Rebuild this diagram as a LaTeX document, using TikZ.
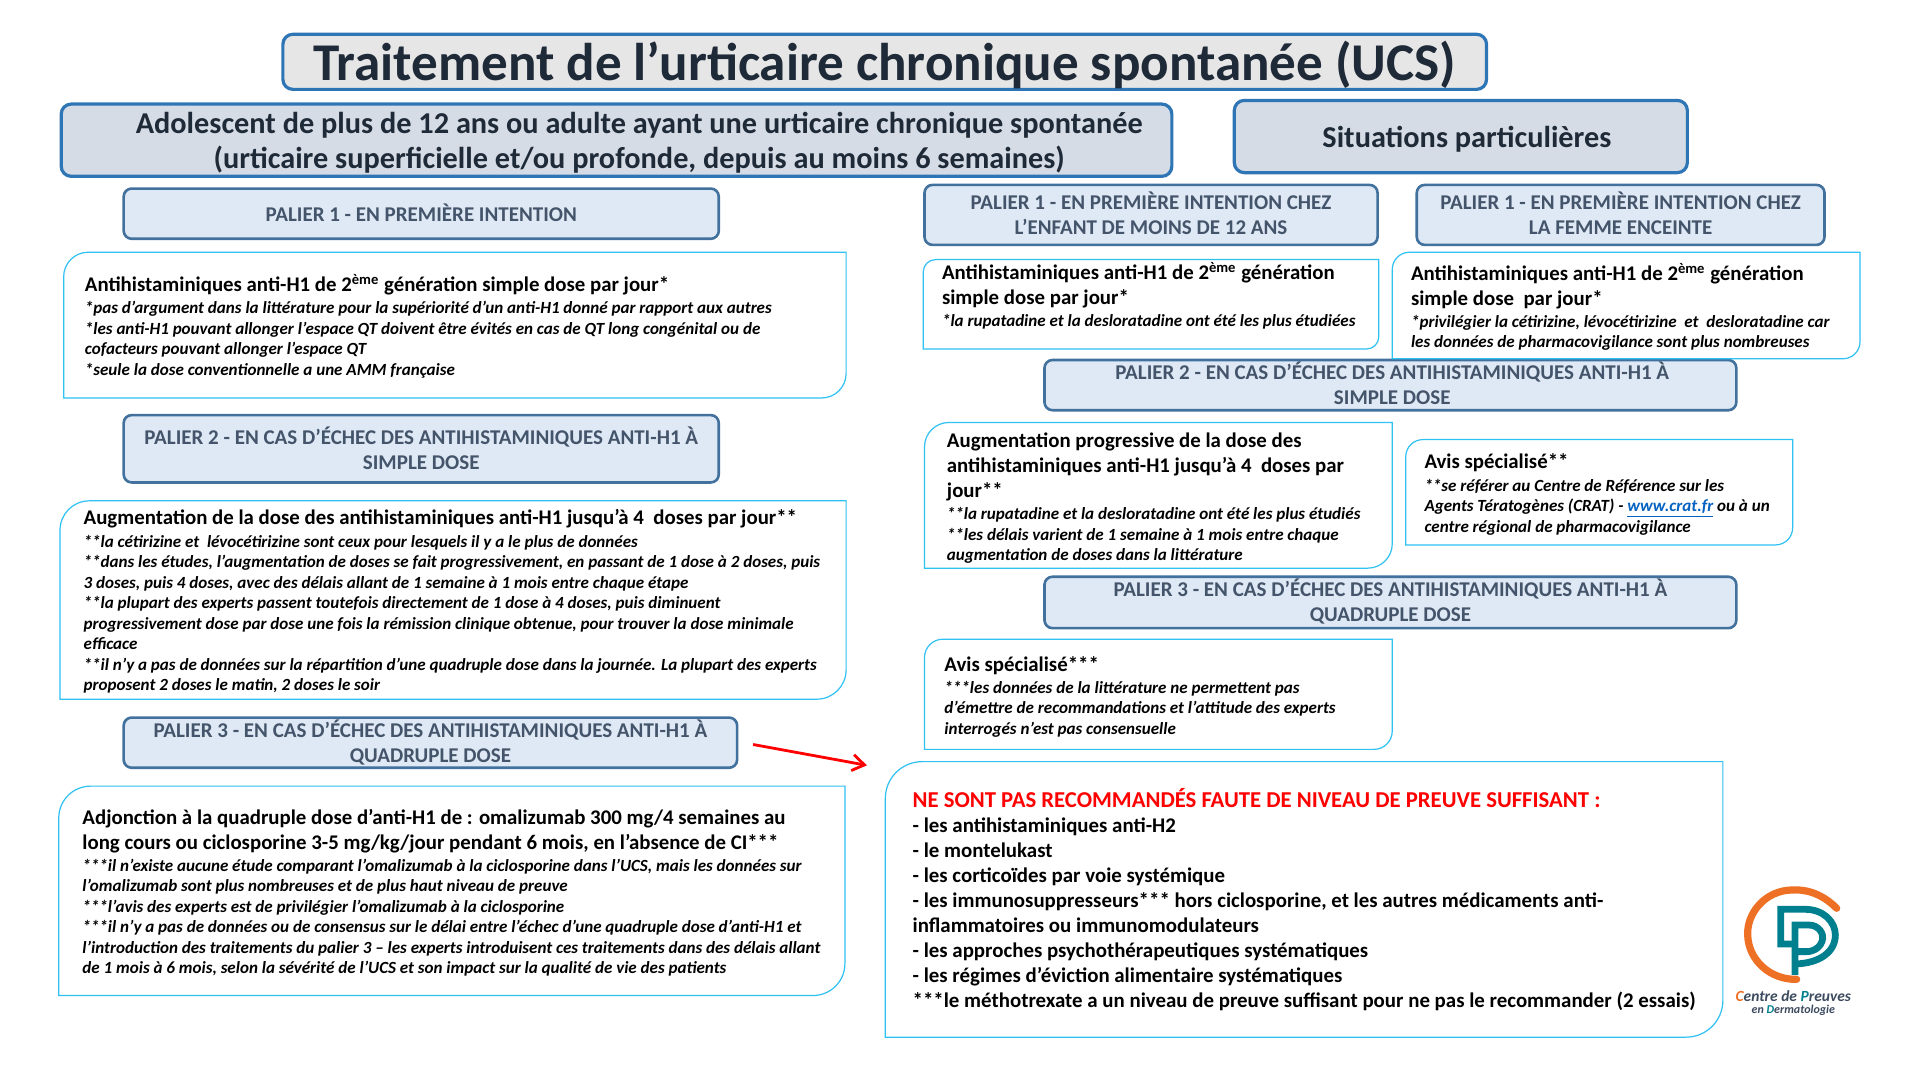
\documentclass[tikz,border=0pt]{standalone}
\usepackage{fontspec}
\setmainfont{Carlito}
\usetikzlibrary{arrows.meta,calc}
\definecolor{hstroke}{HTML}{2E75B6}
\definecolor{pstroke}{HTML}{41719C}
\definecolor{ptext}{HTML}{44546A}
\definecolor{cstroke}{HTML}{2FC1F3}
\definecolor{ttext}{HTML}{1F2A38}
\definecolor{lorange}{HTML}{EE7025}
\definecolor{lteal}{HTML}{00808F}
\definecolor{hfill}{HTML}{D6DCE5}
\definecolor{tfill}{HTML}{E7E6E6}
\definecolor{pfill}{HTML}{DEE9F5}
\newcommand\hdf{\fontsize{10.42}{12.5}\selectfont\bfseries}
\newcommand\ntf{\par\vspace{0.8pt}\fontsize{8.52}{10.25}\selectfont\bfseries\itshape}
\newcommand\lgf{\fontsize{10.44}{12.55}\selectfont\bfseries}
\tikzset{
  x=0.61224pt,y=-0.61224pt,
  headbox/.style={draw=hstroke,line width=1.6pt,rounded corners=5pt,fill=#1,inner sep=0pt},
  palbox/.style={draw=pstroke,line width=1.3pt,rounded corners=4pt,fill=pfill,inner sep=0pt},
  paltext/.style={inner sep=0pt,align=center,text=ptext,font=\fontsize{10.5}{12.3}\selectfont\bfseries},
  bigtext/.style={inner sep=0pt,align=center,text=ttext,font=\fontsize{26.55}{30}\selectfont\bfseries},
  headtext/.style={inner sep=0pt,align=center,text=ttext,font=\fontsize{15.15}{17.8}\selectfont\bfseries},
  cbox/.style={draw=cstroke,line width=0.6pt},
  txt/.style={anchor=north west,inner sep=0pt,text width=440pt,align=flush left},
  logotxt/.style={inner sep=0pt,text=ptext!90!black},
}
% box node from corners, then its label: name, x1,y1,x2,y2, box style, dx,dy, label style; the label text follows
\newcommand\bx[9]{%
  \pgfmathsetmacro\bw{(#4-#2)*0.61224}\pgfmathsetmacro\bh{(#5-#3)*0.61224}%
  \node[#6,minimum width=\bw pt,minimum height=\bh pt,name=#1] at ({(#2+#4)/2},{(#3+#5)/2}) {};
  \node[#9,name=#1-text] at ({(#2+#4)/2+#7},{(#3+#5)/2+#8})}
% content box: square TR and BL corners, rounded TL and BR
\newcommand\cb[5]{\draw[cbox] (#1+#5,#2) -- (#3,#2) -- (#3,#4-#5) arc[start angle=0,end angle=-90,radius=#5 *0.61224pt] -- (#1,#4) -- (#1,#2+#5) arc[start angle=180,end angle=90,radius=#5 *0.61224pt] -- cycle;}
\begin{document}
\begin{tikzpicture}
\useasboundingbox (0,0) rectangle (1568,882);
\fill[white] (0,0) rectangle (1568,882);

\bx{title}{231}{28}{1214}{73}{headbox=tfill}{0}{2.5}{bigtext}{Traitement de l’urticaire chronique spontanée (UCS)};
\bx{adol}{50}{85}{957}{144}{headbox=hfill}{18.5}{2}{headtext}{Adolescent de plus de 12 ans ou adulte ayant une urticaire chronique spontanée\\(urticaire superficielle et/ou profonde, depuis au moins 6 semaines)};
\bx{situ}{1008}{82}{1378}{141}{headbox=hfill}{5}{2}{headtext}{Situations particulières};

\bx{pa}{101}{154}{587}{195}{palbox}{0}{-1}{paltext}{PALIER 1 - EN PREMIÈRE INTENTION};
\bx{pb}{101}{339}{587}{394}{palbox}{0}{-0.5}{paltext}{PALIER 2 - EN CAS D’ÉCHEC DES ANTIHISTAMINIQUES ANTI-H1 À\\SIMPLE DOSE};
\bx{pc}{101}{586}{602}{627}{palbox}{0}{0}{paltext}{PALIER 3 - EN CAS D’ÉCHEC DES ANTIHISTAMINIQUES ANTI-H1 À\\QUADRUPLE DOSE};
\bx{pd}{755}{151}{1125}{200}{palbox}{0}{-1.5}{paltext}{PALIER 1 - EN PREMIÈRE INTENTION CHEZ\\L’ENFANT DE MOINS DE 12 ANS};
\bx{pe}{1157}{151}{1490}{200}{palbox}{0}{-1.5}{paltext}{PALIER 1 - EN PREMIÈRE INTENTION CHEZ\\LA FEMME ENCEINTE};
\bx{pf}{853}{294}{1418}{335}{palbox}{1.5}{-1.5}{paltext}{PALIER 2 - EN CAS D’ÉCHEC DES ANTIHISTAMINIQUES ANTI-H1 À\\SIMPLE DOSE};
\bx{pg}{853}{471}{1418}{513}{palbox}{0}{-1}{paltext}{PALIER 3 - EN CAS D’ÉCHEC DES ANTIHISTAMINIQUES ANTI-H1 À\\QUADRUPLE DOSE};

\cb{52}{206}{691}{325}{20}
\cb{49}{409}{691}{571}{24}
\cb{48}{642}{690}{813}{26}
\cb{754}{212}{1126}{285}{10}
\cb{1137}{206}{1519}{293}{14}
\cb{755}{345}{1137}{464}{20}
\cb{1148}{359}{1464}{445}{14}
\cb{755}{522}{1137}{612}{15}
\cb{723}{622}{1407}{847}{30}

\node[txt] (t1) at (69,223.5) {\hdf Antihistaminiques anti-H1 de 2\textsuperscript{ème} génération simple dose par jour*
\ntf *pas d’argument dans la littérature pour la supériorité d’un anti-H1 donné par rapport aux autres\\{}*les anti-H1 pouvant allonger l’espace QT doivent être évités en cas de QT long congénital ou de\\
cofacteurs pouvant allonger l’espace QT\\{}*seule la dose conventionnelle a une AMM française\par};

\node[txt] (t2) at (68,416) {\hdf Augmentation de la dose des antihistaminiques anti-H1 jusqu’à 4~ doses par jour**
\ntf **la cétirizine et~ lévocétirizine sont ceux pour lesquels il y a le plus de données\\{}**dans les études, l’augmentation de doses se fait progressivement, en passant de 1 dose à 2 doses, puis\\
3 doses, puis 4 doses, avec des délais allant de 1 semaine à 1 mois entre chaque étape\\{}**la plupart des experts passent toutefois directement de 1 dose à 4 doses, puis diminuent\\
progressivement dose par dose une fois la rémission clinique obtenue, pour trouver la dose minimale\\
efficace\\{}**il n’y a pas de données sur la répartition d’une quadruple dose dans la journée. La plupart des experts\\
proposent 2 doses le matin, 2 doses le soir\par};

\node[txt] (t3) at (67,660.5) {\hdf Adjonction à la quadruple dose d’anti-H1 de : omalizumab 300 mg/4 semaines au\\
long cours ou ciclosporine 3-5 mg/kg/jour pendant 6 mois, en l’absence de CI***
\ntf ***il n’existe aucune étude comparant l’omalizumab à la ciclosporine dans l’UCS, mais les données sur\\
l’omalizumab sont plus nombreuses et de plus haut niveau de preuve\\{}***l’avis des experts est de privilégier l’omalizumab à la ciclosporine\\{}***il n’y a pas de données ou de consensus sur le délai entre l’échec d’une quadruple dose d’anti-H1 et\\
l’introduction des traitements du palier 3 – les experts introduisent ces traitements dans des délais allant\\
de 1 mois à 6 mois, selon la sévérité de l’UCS et son impact sur la qualité de vie des patients\par};

\node[txt] (t4) at (769,213.7) {\hdf Antihistaminiques anti-H1 de 2\textsuperscript{ème} génération\\
simple dose par jour*
\ntf *la rupatadine et la desloratadine ont été les plus étudiées\par};

\node[txt] (t5) at (1152,214.5) {\hdf Antihistaminiques anti-H1 de 2\textsuperscript{ème} génération\\
simple dose~ par jour*
\ntf *privilégier la cétirizine, lévocétirizine~ et~ desloratadine car\\
les données de pharmacovigilance sont plus nombreuses\par};

\node[txt] (t6) at (773,353.3) {\hdf Augmentation progressive de la dose des\\
antihistaminiques anti-H1 jusqu’à 4~ doses par\\
jour**
\ntf **la rupatadine et la desloratadine ont été les plus étudiés\\{}**les délais varient de 1 semaine à 1 mois entre chaque\\
augmentation de doses dans la littérature\par};

\node[txt] (t7) at (1163,370.5) {\hdf Avis spécialisé**
\ntf **se référer au Centre de Référence sur les\\
Agents Tératogènes (CRAT) - {\color[HTML]{0563C1}\underline{www.crat.fr}} ou à un\\
centre régional de pharmacovigilance\par};

\node[txt] (t8) at (771,535.5) {\hdf Avis spécialisé***
\ntf ***les données de la littérature ne permettent pas\\
d’émettre de recommandations et l’attitude des experts\\
interrogés n’est pas consensuelle\par};

\node[txt] (t9) at (745,643.2) {\lgf{\color{red}\fontsize{11.35}{12.55}\selectfont NE SONT PAS RECOMMANDÉS FAUTE DE NIVEAU DE PREUVE SUFFISANT :}\\
- les antihistaminiques anti-H2\\
- le montelukast\\
- les corticoïdes par voie systémique\\
- les immunosuppresseurs*** hors ciclosporine, et les autres médicaments anti-\\
inflammatoires ou immunomodulateurs\\
- les approches psychothérapeutiques systématiques\\
- les régimes d’éviction alimentaire systématiques\\{}***le méthotrexate a un niveau de preuve suffisant pour ne pas le recommander (2 essais)\par};

\coordinate (arrowstart) at (615,608);
\coordinate (arrowend) at (708,625);
\draw[red,line width=1.4pt,-{Straight Barb[length=6pt,width=8pt,line width=1.4pt]}] (arrowstart) -- (arrowend);

% logo
\begin{scope}[shift={(1372,702.3)},x=0.16667pt,y=-0.16667pt]
 \draw[lorange,line width=3.6pt,line cap=round] (470,145) .. controls (420,95) and (370,88) .. (335,90) .. controls (255,92) and (200,160) .. (203,225) .. controls (205,300) and (270,360) .. (350,358);
 \draw[lteal,line width=3.4pt,line join=miter] (345,345) -- (345,195) -- (385,195) .. controls (420,195) and (430,225) .. (428,235) .. controls (425,262) and (400,275) .. (380,275) -- (345,275);
 \draw[lteal,line width=3.4pt,line join=miter] (345,252) -- (302,252) -- (302,148) -- (375,148) .. controls (430,148) and (466,185) .. (466,225) .. controls (466,275) and (420,310) .. (345,312);
 \node[logotxt,anchor=center,font=\fontsize{7.75}{9}\selectfont\bfseries\itshape] (logoa) at (340,408) {{\color{lorange}C}entre de {\color{lteal}P}reuves};
 \node[logotxt,anchor=center,font=\fontsize{6}{7}\selectfont\bfseries\itshape] (logob) at (340,450) {en {\color{lteal}D}ermatologie};
\end{scope}
\end{tikzpicture}
\end{document}
